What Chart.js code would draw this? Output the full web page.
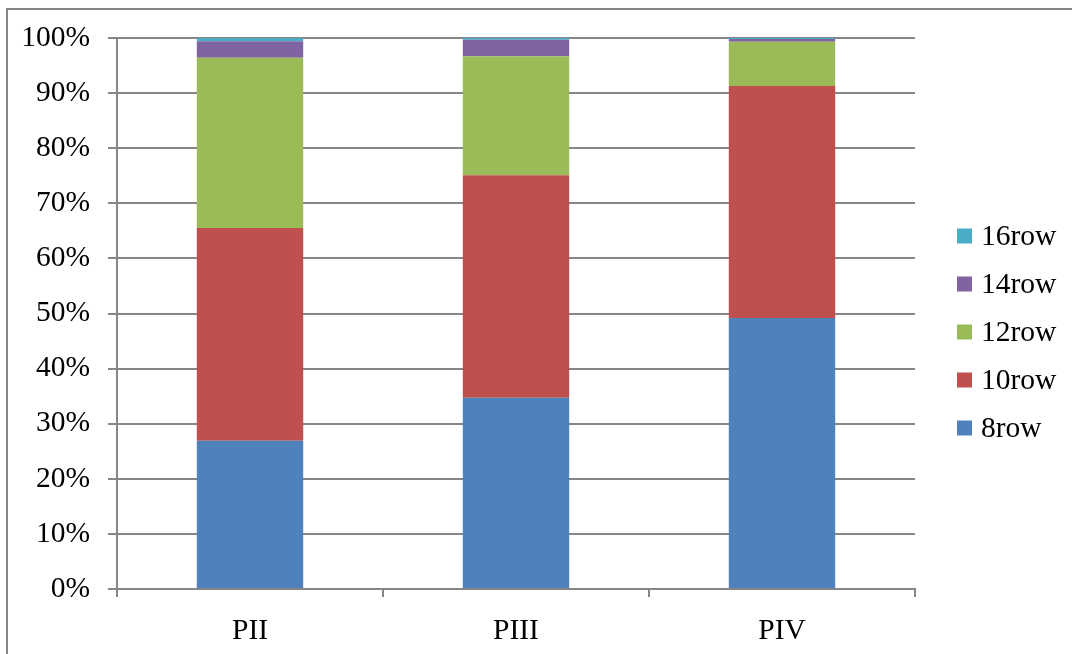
<!DOCTYPE html>
<html>
<head>
<meta charset="utf-8">
<script src="https://cdn.jsdelivr.net/npm/chart.js@4/dist/chart.umd.min.js"></script>
<style>
  html, body { margin: 0; padding: 0; background: #ffffff; overflow: hidden; }
  #frame { position: absolute; left: 6px; top: 8px; width: 3000px; height: 3000px; border: 2px solid #868686; box-sizing: border-box; }
  #c { position: absolute; left: 0; top: 0; }
</style>
</head>
<body>
<div id="frame"></div>
<canvas id="c" width="1072" height="654"></canvas>
<script>
const categories = ['PII', 'PIII', 'PIV'];
const seriesNames = ['8row', '10row', '12row', '14row', '16row'];
const row8  = [26.9, 34.7, 49.2];
const row10 = [38.6, 40.4, 42.1];
const row12 = [30.9, 21.6, 8.0];
const row14 = [3.0, 3.0, 0.5];
const row16 = [0.6, 0.3, 0.2];
const yTicks = [0, 10, 20, 30, 40, 50, 60, 70, 80, 90, 100];

const colors = ['#4F81BD', '#C0504D', '#9BBB59', '#8064A2', '#4BACC6'];
const seriesValues = [row8, row10, row12, row14, row16];
const FONT = '"Liberation Serif", "Times New Roman", serif';
const FSIZE = 29.5;
const GRID = '#868686';

const legendPlugin = {
  id: 'customLegend',
  afterDraw(chart) {
    const ctx = chart.ctx;
    ctx.save();
    ctx.font = FSIZE + 'px ' + FONT;
    ctx.textBaseline = 'middle';
    ctx.textAlign = 'left';
    const ds = chart.data.datasets;
    const n = ds.length;
    for (let i = 0; i < n; i++) {
      const d = ds[n - 1 - i];
      const cy = 236 + i * 48;
      ctx.fillStyle = d.backgroundColor;
      ctx.fillRect(957, cy - 7.5, 15, 15);
      ctx.fillStyle = '#000000';
      ctx.fillText(d.label, 981, cy + 1);
    }
    ctx.restore();
  }
};

new Chart(document.getElementById('c'), {
  type: 'bar',
  data: {
    labels: categories,
    datasets: seriesNames.map((name, i) => ({
      label: name,
      data: seriesValues[i],
      backgroundColor: colors[i],
      borderWidth: 0,
      categoryPercentage: 1.0,
      barPercentage: 0.4
    }))
  },
  options: {
    responsive: false,
    animation: false,
    devicePixelRatio: 1,
    layout: { padding: { top: 38, right: 157, left: 0, bottom: 0 } },
    plugins: {
      legend: { display: false },
      tooltip: { enabled: false },
      title: { display: false }
    },
    scales: {
      x: {
        stacked: true,
        afterFit(scale) { scale.height = 65; },
        grid: { display: true, offset: true, drawOnChartArea: false, drawTicks: true, tickLength: 8, color: GRID, lineWidth: 2 },
        border: { display: true, color: GRID, width: 2 },
        ticks: { color: '#000000', font: { family: FONT, size: FSIZE }, padding: 17 }
      },
      y: {
        stacked: true,
        min: 0,
        max: 100,
        afterFit(scale) { scale.width = 117; },
        afterBuildTicks(scale) { scale.ticks = yTicks.map(v => ({ value: v })); },
        grid: { color: GRID, lineWidth: 2, tickLength: 9 },
        border: { display: true, color: GRID, width: 2 },
        ticks: { color: '#000000', font: { family: FONT, size: FSIZE }, padding: 18, callback: v => v + '%' }
      }
    }
  },
  plugins: [legendPlugin]
});
</script>
</body>
</html>
